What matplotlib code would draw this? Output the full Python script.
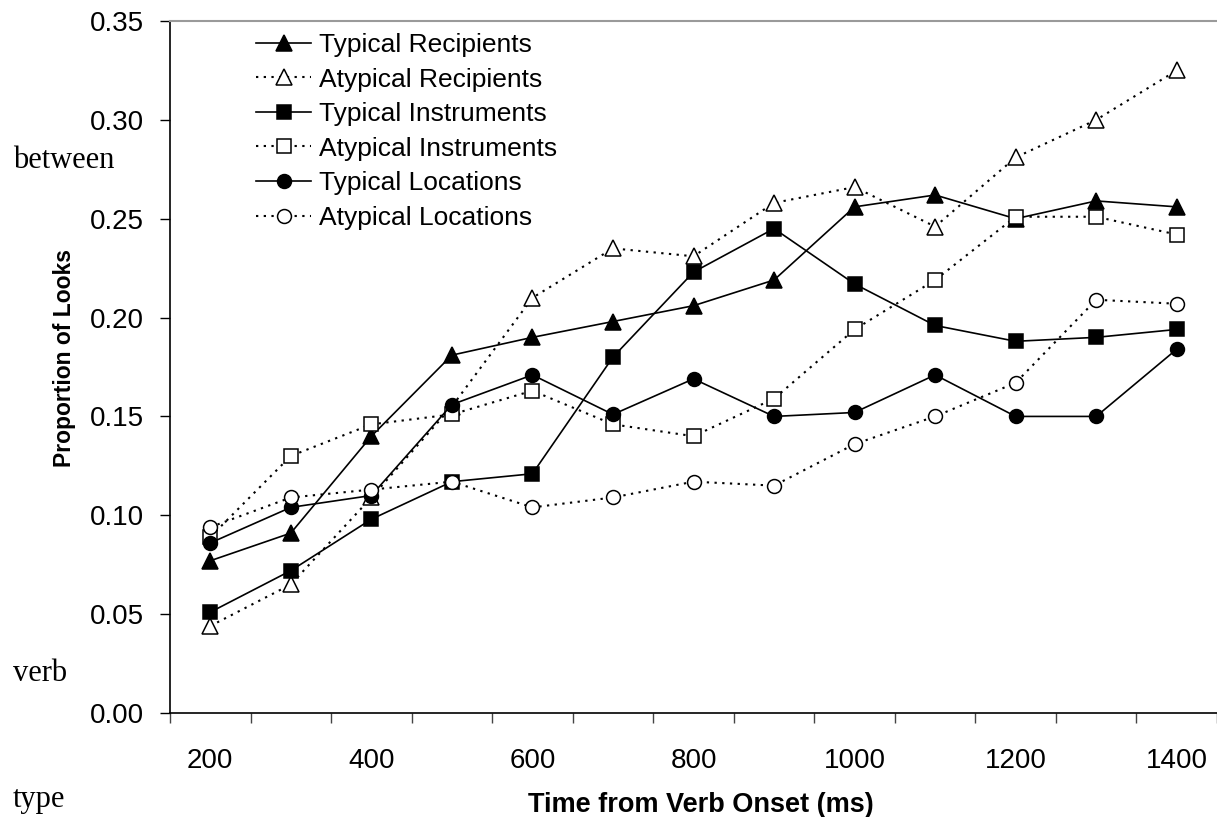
import numpy as np
import matplotlib
matplotlib.use("Agg")
import matplotlib.pyplot as plt

plt.rcParams['font.family'] = ['Liberation Sans', 'DejaVu Sans']

times = [200, 300, 400, 500, 600, 700, 800, 900, 1000, 1100, 1200, 1300, 1400]
tick_labels = ['200', '400', '600', '800', '1000', '1200', '1400']
yticks = [0.00, 0.05, 0.10, 0.15, 0.20, 0.25, 0.30, 0.35]

typical_recipients = [0.077, 0.091, 0.140, 0.181, 0.190, 0.198, 0.206, 0.219, 0.256, 0.262, 0.250, 0.259, 0.256]
atypical_recipients = [0.044, 0.065, 0.109, 0.155, 0.210, 0.235, 0.231, 0.258, 0.266, 0.246, 0.281, 0.300, 0.325]
typical_instruments = [0.051, 0.072, 0.098, 0.117, 0.121, 0.180, 0.223, 0.245, 0.217, 0.196, 0.188, 0.190, 0.194]
atypical_instruments = [0.089, 0.130, 0.146, 0.151, 0.163, 0.146, 0.140, 0.159, 0.194, 0.219, 0.251, 0.251, 0.242]
typical_locations = [0.086, 0.104, 0.110, 0.156, 0.171, 0.151, 0.169, 0.150, 0.152, 0.171, 0.150, 0.150, 0.184]
atypical_locations = [0.094, 0.109, 0.113, 0.117, 0.104, 0.109, 0.117, 0.115, 0.136, 0.150, 0.167, 0.209, 0.207]

series = [
    ("Typical Recipients", typical_recipients, '^', True),
    ("Atypical Recipients", atypical_recipients, '^', False),
    ("Typical Instruments", typical_instruments, 's', True),
    ("Atypical Instruments", atypical_instruments, 's', False),
    ("Typical Locations", typical_locations, 'o', True),
    ("Atypical Locations", atypical_locations, 'o', False),
]
msizes = {'^': 11, 's': 10, 'o': 10}

W, H = 1217, 817
fig = plt.figure(figsize=(W / 100, H / 100), dpi=100)
ax = fig.add_axes([170 / W, (H - 713) / H, (W - 170) / W, (713 - 21) / H])

x = np.arange(1, len(times) + 1)
for name, vals, mk, filled in series:
    ax.plot(x, vals,
            color='black',
            linewidth=1.2 if filled else 1.5,
            linestyle='-' if filled else (0, (1.1, 2.6)),
            marker=mk, markersize=msizes[mk],
            markerfacecolor='black' if filled else 'white',
            markeredgecolor='black', markeredgewidth=1.1,
            label=name, clip_on=False)

ax.set_xlim(0.5, len(times) + 0.5)
ax.set_ylim(0, 0.35)
ax.set_yticks(yticks)
ax.set_yticklabels([f"{v:.2f}" for v in yticks])

ax.set_xticks(np.arange(0.5, len(times) + 1, 1.0))
ax.set_xticklabels([])
ax.set_xticks(x[::2], minor=True)
ax.set_xticklabels(tick_labels, minor=True)
ax.tick_params(axis='x', which='major', direction='out', length=7, width=1.0, color='#444444')
ax.tick_params(axis='x', which='minor', length=0, pad=25, labelsize=20)
ax.tick_params(axis='y', direction='out', length=7.5, width=1.0, pad=11, labelsize=20)

ax.spines['right'].set_visible(False)
ax.spines['top'].set_color('#9a9a9a')
ax.spines['top'].set_linewidth(1.5)
ax.spines['left'].set_linewidth(1.2)
ax.spines['bottom'].set_linewidth(1.2)

ax.set_xlabel("Time from Verb Onset (ms)", fontsize=19.5, fontweight='bold')
ax.xaxis.set_label_coords((701 - 170) / 1047, (713 - 792) / 692)
ax.set_ylabel("Proportion of Looks", fontsize=16.5, fontweight='bold')
ax.yaxis.set_label_coords((76 - 170) / 1047, (713 - 358) / 692)

leg = ax.legend(loc='upper left', bbox_to_anchor=((256 - 170) / 1047, 1 - 12 / 692),
                frameon=False, fontsize=19, handlelength=2.1, handletextpad=0.3,
                labelspacing=0.40, borderpad=0, borderaxespad=0)

for txt, yb in [("between", 168), ("verb", 681), ("type", 807)]:
    fig.text(13 / W, (H - yb) / H, txt, family='Liberation Serif', fontsize=22,
             ha='left', va='baseline')

fig.savefig("out.png", dpi=100)
